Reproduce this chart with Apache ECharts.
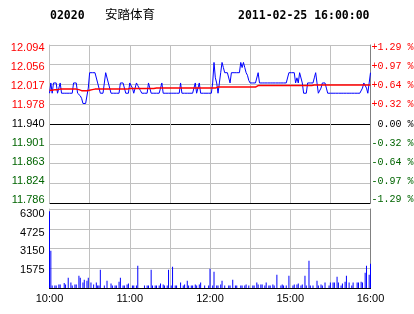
<!DOCTYPE html>
<html><head><meta charset="utf-8">
<script src="https://cdn.jsdelivr.net/npm/echarts@6/dist/echarts.min.js"></script>
<style>html,body{margin:0;padding:0;background:#fff}#c{width:414px;height:314px}</style>
</head><body><div id="c"></div>
<script>
const stockCode = '02020';
const stockName = '安踏体育';
const stamp = '2011-02-25 16:00:00';
const prevClose = 11.94;

// tick labels, bottom -> top
const priceTicks = ['11.786','11.824','11.863','11.901','11.940','11.978','12.017','12.056','12.094'];
const pctTicks = ['-1.29 %','-0.97 %','-0.64 %','-0.32 %',' 0.00 %','+0.32 %','+0.64 %','+0.97 %','+1.29 %'];
const volTicks = ['', '1575', '3150', '4725', '6300'];
const timeTicks = ['10:00','11:00','12:00','15:00','16:00'];

// minute categories: 10:00-12:30, 14:31-16:00
const times = [];
function hhmm(m){const h=Math.floor(m/60),mm=m%60;return (h<10?'0':'')+h+':'+(mm<10?'0':'')+mm;}
for (let m = 600; m <= 750; m++) times.push(hhmm(m));
for (let m = 871; m <= 960; m++) times.push(hhmm(m));

const price = [
12.00,12.02,12.00,12.02,12.02,12.02,12.00,12.00,12.02,12.00,
12.00,12.00,12.00,12.00,12.00,12.00,12.00,12.00,12.02,12.02,
12.02,12.00,12.00,11.995,11.99,11.98,11.98,11.98,11.98,12.01,
12.04,12.04,12.04,12.04,12.04,12.04,12.02,12.02,12.00,12.00,
12.00,12.00,12.04,12.04,12.02,12.02,12.00,12.00,12.00,12.00,
12.00,12.00,12.00,12.02,12.02,12.02,12.02,12.00,12.00,12.00,
12.02,12.02,12.01,12.00,12.00,12.02,12.015,12.01,12.005,12.00,
12.00,12.00,12.00,12.00,12.02,12.02,12.00,12.00,12.00,12.00,
12.00,12.00,12.00,12.00,12.02,12.00,12.00,12.00,12.00,12.00,
12.00,12.00,12.00,12.00,12.00,12.00,12.00,12.00,12.02,12.00,
12.00,12.00,12.00,12.00,12.00,12.00,12.00,12.00,12.00,12.02,
12.00,12.00,12.02,12.00,12.00,12.00,12.00,12.00,12.00,12.00,
12.00,12.00,12.02,12.06,12.03,12.02,12.00,12.02,12.04,12.06,
12.05,12.04,12.04,12.04,12.04,12.02,12.04,12.04,12.04,12.04,
12.04,12.04,12.04,12.06,12.05,12.06,12.05,12.04,12.035,12.025,
12.02,12.02,12.02,12.02,12.02,12.02,12.04,12.02,12.02,12.02,
12.02,12.02,12.02,12.02,12.02,12.02,12.02,12.02,12.02,12.02,
12.02,12.02,12.02,12.02,12.02,12.02,12.02,12.02,12.02,12.04,
12.04,12.04,12.04,12.04,12.02,12.03,12.02,12.04,12.04,12.02,
12.00,12.00,12.00,12.02,12.02,12.02,12.02,12.02,12.03,12.04,
12.02,12.00,12.00,12.01,12.02,12.02,12.02,12.01,12.00,12.00,
12.00,12.00,12.00,12.00,12.00,12.00,12.00,12.00,12.00,12.00,
12.00,12.00,12.00,12.00,12.00,12.00,12.00,12.00,12.00,12.00,
12.00,12.00,12.00,12.00,12.01,12.02,12.02,12.01,12.00,12.02,
12.04
];

const avgPrice = [
12.006,12.006,12.006,12.007,12.007,12.007,12.007,12.008,12.008,12.008,
12.008,12.008,12.008,12.008,12.008,12.008,12.008,12.008,12.008,12.008,
12.008,12.007,12.007,12.006,12.005,12.005,12.005,12.005,12.005,12.006,
12.006,12.006,12.007,12.007,12.008,12.008,12.008,12.008,12.008,12.008,
12.008,12.008,12.008,12.008,12.008,12.008,12.008,12.008,12.008,12.008,
12.008,12.008,12.008,12.008,12.008,12.008,12.008,12.008,12.008,12.008,
12.009,12.009,12.009,12.009,12.009,12.009,12.009,12.009,12.009,12.009,
12.009,12.009,12.009,12.009,12.009,12.009,12.009,12.009,12.009,12.009,
12.010,12.010,12.010,12.010,12.010,12.010,12.010,12.010,12.010,12.010,
12.010,12.010,12.010,12.010,12.010,12.010,12.010,12.010,12.010,12.010,
12.010,12.010,12.010,12.010,12.010,12.010,12.010,12.010,12.010,12.010,
12.010,12.010,12.010,12.010,12.010,12.010,12.010,12.010,12.010,12.010,
12.010,12.010,12.010,12.010,12.010,12.010,12.012,12.012,12.012,12.012,
12.012,12.012,12.012,12.012,12.012,12.012,12.012,12.012,12.012,12.012,
12.012,12.012,12.012,12.012,12.012,12.012,12.012,12.012,12.012,12.012,
12.012,12.012,12.012,12.012,12.012,12.015,12.015,12.015,12.015,12.015,
12.015,12.015,12.015,12.015,12.015,12.015,12.015,12.015,12.015,12.015,
12.015,12.015,12.015,12.015,12.015,12.015,12.015,12.015,12.015,12.015,
12.015,12.015,12.015,12.015,12.015,12.015,12.015,12.015,12.015,12.015,
12.015,12.015,12.015,12.015,12.015,12.015,12.015,12.015,12.016,12.016,
12.016,12.016,12.016,12.016,12.016,12.016,12.016,12.016,12.016,12.016,
12.016,12.016,12.016,12.016,12.016,12.016,12.016,12.016,12.016,12.016,
12.016,12.016,12.016,12.016,12.016,12.016,12.016,12.016,12.016,12.016,
12.016,12.016,12.016,12.016,12.016,12.016,12.016,12.016,12.016,12.016,
12.016
];

const volume = [
6120,2980,190,0,190,190,0,270,270,0,
0,400,270,0,825,0,430,190,0,270,
270,0,985,825,0,430,665,0,585,825,
0,430,0,270,0,430,190,190,1465,0,
0,190,0,585,0,0,350,190,0,190,
190,0,505,825,0,190,190,0,270,350,
0,0,190,190,0,190,1780,0,0,0,
0,190,0,190,190,0,1465,190,0,190,
190,0,190,350,0,270,190,0,190,1465,
0,190,1700,0,190,190,0,0,430,0,
190,270,0,585,190,0,190,190,0,270,
190,0,270,430,0,0,190,0,0,190,
1545,0,190,1305,0,190,190,0,270,585,
0,190,0,0,190,190,0,665,0,190,
190,0,0,190,190,0,190,270,0,190,
0,0,190,190,0,430,270,0,270,270,
0,190,430,0,190,190,0,270,190,0,
1065,0,0,190,270,190,0,190,0,985,
0,0,190,270,0,270,350,0,190,270,
0,985,190,0,2180,190,0,190,0,0,
585,190,0,270,190,0,430,0,0,190,
430,0,430,430,0,905,430,0,190,350,
0,505,985,0,430,0,190,430,0,0,
430,430,0,505,430,0,1225,1780,0,1065,
1940
];

// style-only helpers
const RED = '#ff0000', GREEN = '#006400', GRAY = '#c0c0c0';
const priceColors = [GREEN,GREEN,GREEN,GREEN,'#000000',RED,RED,RED,RED];
const priceShift = [-3.5,-2,-1.3,-0.75,0,0.25,1,1.75,2.5];
const volShift = [0,1.7,2.7,3.75,4.8];
const pMin = -0.154, pMax = 0.154, pStep = 0.0385;

function rich(prefix, colors, shifts, family, size) {
  const r = {};
  shifts.forEach((s, i) => {
    r[prefix + i] = {
      color: colors[i], fontFamily: family, fontSize: size,
      padding: s >= 0 ? [2 * s, 0, 0, 0] : [0, 0, -2 * s, 0]
    };
  });
  return r;
}
const pIdx = v => Math.round((v - pMin) / pStep);

const chart = echarts.init(document.getElementById('c'), null, {renderer: 'canvas'});
chart.setOption({
  animation: false,
  backgroundColor: '#ffffff',
  graphic: [
    {type: 'text', left: 50, top: 10, style: {text: stockCode, font: 'bold 11.5px "DejaVu Sans Mono"', fill: '#000'}},
    {type: 'text', left: 105, top: 8, style: {text: stockName, font: '12.5px "Noto Sans CJK SC"', fill: '#000'}},
    {type: 'text', left: 238, top: 10, style: {text: stamp, font: 'bold 11.5px "DejaVu Sans Mono"', fill: '#000'}}
  ],
  grid: [
    {left: 49.5, top: 45, width: 321, height: 158, outerBoundsMode: 'none', containLabel: false},
    {left: 49.5, top: 209, width: 321, height: 79, outerBoundsMode: 'none', containLabel: false}
  ],
  xAxis: [
    {type: 'category', gridIndex: 0, data: times, boundaryGap: false,
     axisLine: {show: false}, axisTick: {show: false}, axisLabel: {show: false},
     splitLine: {show: true, interval: i => i % 30 === 0, lineStyle: {color: GRAY, width: 1}}},
    {type: 'category', gridIndex: 1, data: times, boundaryGap: false,
     axisLine: {show: true, onZero: false, lineStyle: {color: '#000', width: 1}},
     axisTick: {show: false},
     axisLabel: {show: true, interval: (i, v) => timeTicks.indexOf(v) >= 0, margin: 5,
       color: '#000', fontFamily: 'Liberation Sans', fontSize: 11},
     splitLine: {show: true, interval: i => i % 30 === 0, lineStyle: {color: GRAY, width: 1}}}
  ],
  yAxis: [
    {type: 'value', gridIndex: 0, position: 'left', min: pMin, max: pMax, interval: pStep,
     axisLine: {show: true, lineStyle: {color: GRAY}}, axisTick: {show: false},
     axisLabel: {margin: 5, formatter: v => { const i = pIdx(v); return '{p' + i + '|' + priceTicks[i] + '}'; },
       rich: rich('p', priceColors, priceShift, 'Liberation Sans', 11)},
     splitLine: {show: true, lineStyle: {color: ['#000000', GRAY, GRAY, GRAY, '#000000', GRAY, GRAY, GRAY, GRAY], width: 1}}},
    {type: 'value', gridIndex: 0, position: 'right', min: pMin, max: pMax, interval: pStep,
     axisLine: {show: true, lineStyle: {color: '#808080'}}, axisTick: {show: false},
     axisLabel: {margin: 1, align: 'left', formatter: v => { const i = pIdx(v); return '{q' + i + '|' + pctTicks[i] + '}'; },
       rich: rich('q', priceColors, priceShift, 'Liberation Mono', 10)},
     splitLine: {show: false}},
    {type: 'value', gridIndex: 1, position: 'left', min: 0, max: 6300, interval: 1575,
     axisLine: {show: true, lineStyle: {color: GRAY}}, axisTick: {show: false},
     axisLabel: {margin: 5, formatter: v => { const i = Math.round(v / 1575); return i === 0 ? '' : '{v' + i + '|' + volTicks[i] + '}'; },
       rich: rich('v', ['#000','#000','#000','#000','#000'], volShift, 'Liberation Sans', 11)},
     splitLine: {show: true, lineStyle: {color: ['#000000', GRAY, GRAY, GRAY, GRAY], width: 1}}},
    {type: 'value', gridIndex: 1, position: 'right', min: 0, max: 6300, interval: 1575,
     axisLine: {show: true, lineStyle: {color: '#808080'}}, axisTick: {show: false},
     axisLabel: {show: false}, splitLine: {show: false}}
  ],
  series: [
    {type: 'line', xAxisIndex: 0, yAxisIndex: 0, data: price.map(p => p - prevClose),
     showSymbol: false, symbol: 'none', lineStyle: {color: '#0000ff', width: 1}, z: 3},
    {type: 'line', xAxisIndex: 0, yAxisIndex: 0, data: avgPrice.map(p => p - prevClose),
     showSymbol: false, symbol: 'none', lineStyle: {color: '#ff0000', width: 1.5}, z: 4},
    {type: 'bar', xAxisIndex: 1, yAxisIndex: 2, data: volume, barWidth: 1,
     itemStyle: {color: '#0000ff'}, z: 3}
  ]
});
</script></body></html>
